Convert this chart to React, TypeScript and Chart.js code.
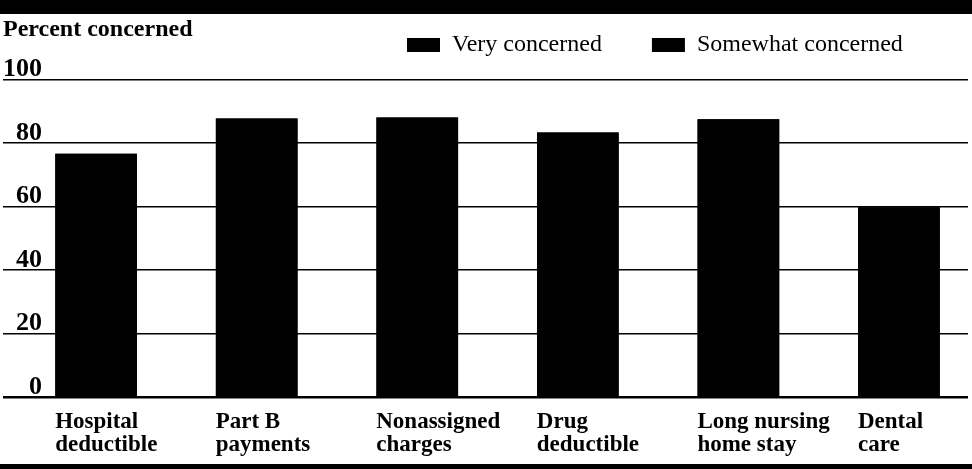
import React, { useEffect, useRef } from "react";
import { Chart, registerables } from "chart.js";

Chart.register(...registerables);

// ---- data ----
const categories: string[][] = [
  ["Hospital", "deductible"],
  ["Part B", "payments"],
  ["Nonassigned", "charges"],
  ["Drug", "deductible"],
  ["Long nursing", "home stay"],
  ["Dental", "care"],
];
// Total percent concerned (very + somewhat). Both segments are printed in
// solid black, so only the combined bar height can be read from the picture.
const totalConcerned = [76.5, 87.6, 87.9, 83.2, 87.3, 59.7];
const seriesNames = ["Very concerned", "Somewhat concerned"];
const yMin = 0;
const yMax = 100;
const yStep = 20;
const axisTitle = "Percent concerned";

const FONT = "'Liberation Serif', 'Times New Roman', serif";

export default function App() {
  const canvasRef = useRef<HTMLCanvasElement | null>(null);

  useEffect(() => {
    const canvas = canvasRef.current;
    if (!canvas) return;

    const bands = {
      id: "bands",
      beforeDraw(chart: any) {
        const { ctx, width, height } = chart;
        ctx.save();
        ctx.fillStyle = "#ffffff";
        ctx.fillRect(0, 0, width, height);
        ctx.fillStyle = "#000000";
        ctx.fillRect(0, 0, width, 14);
        ctx.fillRect(0, height - 5, width, 5);
        ctx.restore();
      },
    };

    // place the legend row to the right of the axis title
    const legendPlace = {
      id: "legendPlace",
      afterLayout(chart: any) {
        const lg = chart.legend;
        if (!lg) return;
        const pad = lg.options.labels.padding;
        lg.left = 357;
        lg.right = lg.left + 600;
        lg.top = 33 - pad;
        lg.bottom = lg.top + pad + 40;
      },
    };

    const chart = new Chart(canvas, {
      type: "bar",
      data: {
        datasets: seriesNames.map((name) => ({
          label: name,
          data: totalConcerned.map((v, i) => ({ x: i, y: v })),
          backgroundColor: "#000000",
          borderWidth: 0,
          barThickness: 81,
          grouped: false,
        })),
      },
      plugins: [bands, legendPlace],
      options: {
        animation: false,
        responsive: true,
        maintainAspectRatio: false,
        layout: { padding: { left: 3, right: 4, top: 0, bottom: -1 } },
        plugins: {
          tooltip: { enabled: false },
          title: {
            display: true,
            text: axisTitle,
            align: "start",
            color: "#000",
            font: { family: FONT, size: 24, weight: "bold", lineHeight: 1.2 },
            padding: { top: 15, bottom: 34.5 },
          },
          legend: {
            display: true,
            position: "top",
            align: "start",
            maxHeight: 1,
            labels: {
              color: "#000",
              font: { family: FONT, size: 24 },
              boxWidth: 33,
              boxHeight: 14,
              padding: 50,
            },
          },
        },
        scales: {
          x: {
            type: "linear",
            min: -0.58,
            max: 5.43,
            offset: false,
            grid: { display: false, drawTicks: false },
            border: { display: false },
            afterBuildTicks: (scale: any) => {
              scale.ticks = categories.map((_, i) => ({ value: i }));
            },
            afterFit: (scale: any) => {
              scale.paddingLeft = 0;
              scale.paddingRight = 0;
            },
            ticks: {
              autoSkip: false,
              maxRotation: 0,
              minRotation: 0,
              align: "start",
              labelOffset: -41,
              padding: 14,
              color: "#000",
              callback: (v: any) => categories[v] ?? "",
              font: { family: FONT, size: 23, weight: "bold", lineHeight: 0.97 },
            },
          },
          y: {
            min: yMin,
            max: yMax,
            grid: {
              color: "#000",
              lineWidth: (c: any) => (c.tick && c.tick.value === 0 ? 2.5 : 1.4),
              drawTicks: false,
            },
            border: { display: false },
            ticks: {
              stepSize: yStep,
              mirror: true,
              crossAlign: "far",
              padding: 0,
              labelOffset: -10,
              color: "#000",
              font: { family: FONT, size: 26, weight: "bold" },
            },
          },
        },
      },
    } as any);

    return () => chart.destroy();
  }, []);

  return (
    <div style={{ position: "fixed", left: 0, top: 0, width: 972, height: 469, background: "#fff" }}>
      <canvas ref={canvasRef} />
    </div>
  );
}
